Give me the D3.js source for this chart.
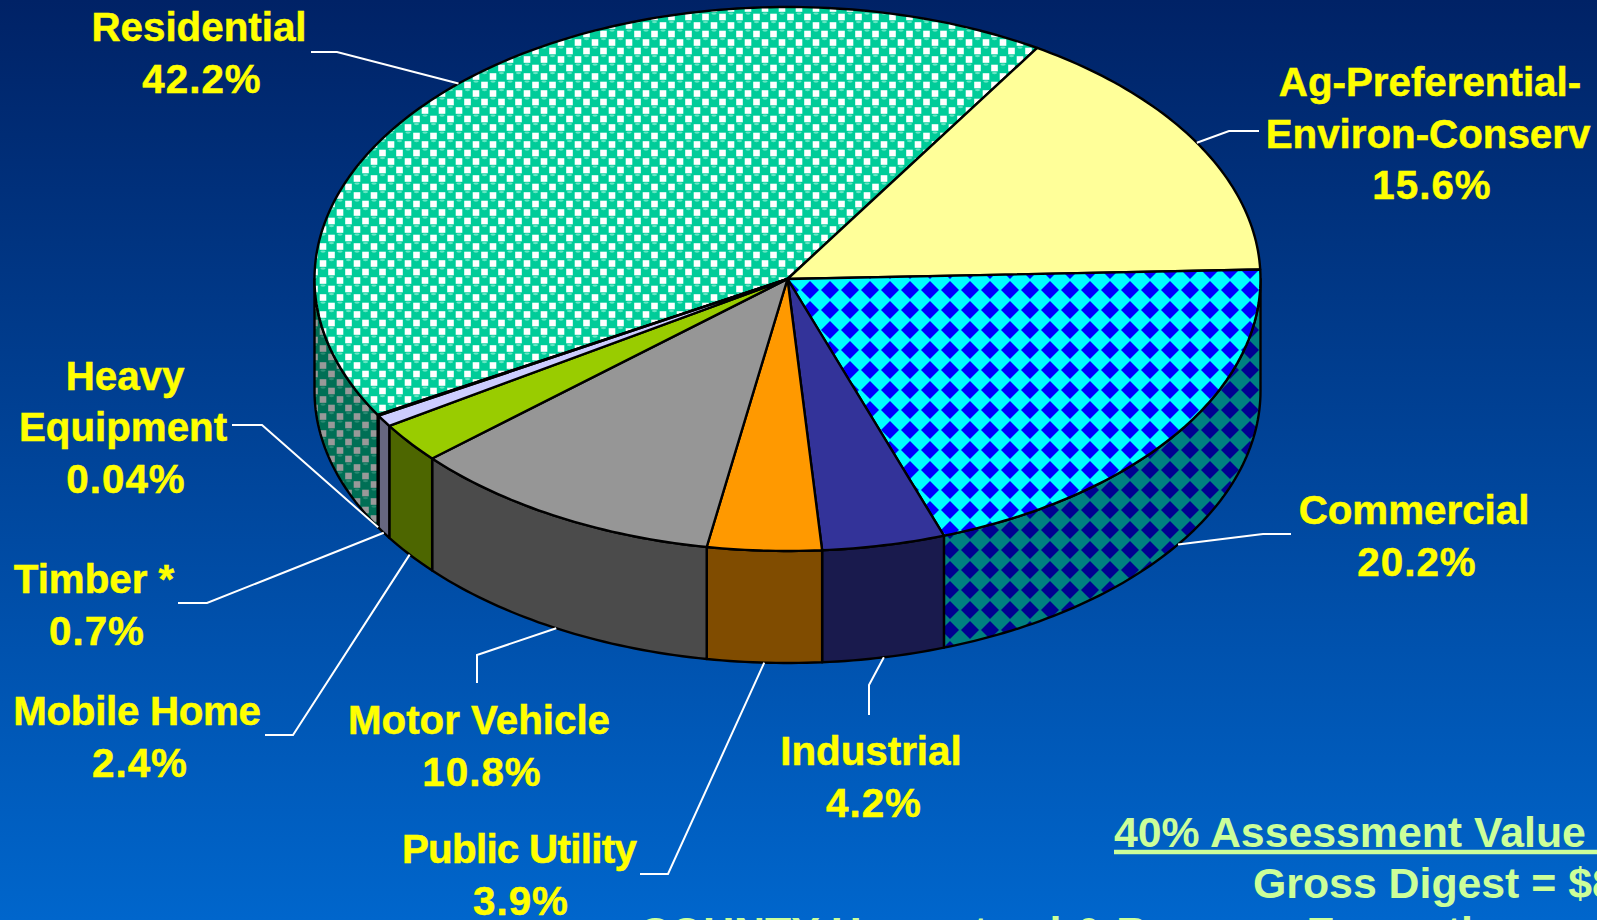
<!DOCTYPE html>
<html>
<head>
<meta charset="utf-8">
<script src="https://cdn.jsdelivr.net/npm/d3@7/dist/d3.min.js"></script>
<style>
  html, body { margin: 0; padding: 0; overflow: hidden; }
  text { font-family: "Liberation Sans", Arial, sans-serif; font-weight: bold; }
</style>
</head>
<body>
<div class="plot"></div>
<script>
const categories = ["Residential", "Ag-Preferential-Environ-Conserv", "Commercial", "Industrial", "Public Utility", "Motor Vehicle", "Mobile Home", "Timber *", "Heavy Equipment"];
const shares = [42.2, 15.6, 20.2, 4.2, 3.9, 10.8, 2.4, 0.7, 0.04];
const shareLabels = ["42.2%", "15.6%", "20.2%", "4.2%", "3.9%", "10.8%", "2.4%", "0.7%", "0.04%"];

const topFills = ["url(#residentialTop)", "#ffff99", "url(#commercialTop)", "#333399", "#ff9900", "#969696", "#99cc00", "#ccccff", "#ccccff"];
const sideFills = ["url(#residentialSide)", "#80804d", "url(#commercialSide)", "#191a4d", "#804c00", "#4b4b4b", "#4d6600", "#666680", "#666680"];

// label lines: [text, centre x, baseline y]
const labelLines = [
    [["Residential", 199, 41], ["42.2%", 202, 93]],
    [["Ag-Preferential-", 1430, 96], ["Environ-Conserv", 1428, 148], ["15.6%", 1432, 199]],
    [["Commercial", 1414, 524], ["20.2%", 1417, 576]],
    [["Industrial", 871, 765], ["4.2%", 874, 817]],
    [["Public Utility", 519, 863], ["3.9%", 521, 915]],
    [["Motor Vehicle", 479, 734], ["10.8%", 482, 786]],
    [["Mobile Home", 137, 725], ["2.4%", 140, 777]],
    [["Timber *", 94, 593], ["0.7%", 97, 645]],
    [["Heavy", 125, 390], ["Equipment", 123, 441], ["0.04%", 126, 493]]
];
// leader line start and elbow, the far end comes from the slice
const leaderStarts = [[311, 52], [1259, 131], [1291, 534], [869, 715], [640, 874], [477, 683], [265, 735], [178, 603], [232, 425]];
const leaderElbows = [[337, 52], [1229, 131], [1263, 534], [869, 685], [668, 874], [477, 655], [293, 735], [207, 603], [262, 425]];

const width = 1597, height = 920;
const cx = 787.5, cy = 279, rx = 473, ry = 272, depth = 112;

const svg = d3.select(".plot")
    .append("svg")
        .attr("width", width)
        .attr("height", height)
        .style("display", "block");

const defs = svg.append("defs");

// Background
const bg = defs.append("linearGradient")
    .attr("id", "bg")
    .attr("x1", 0).attr("y1", 0).attr("x2", 0).attr("y2", 1);
bg.append("stop").attr("offset", "0%").attr("stop-color", "#002266");
bg.append("stop").attr("offset", "100%").attr("stop-color", "#0066cc");

svg.append("rect")
    .attr("width", width)
    .attr("height", height)
    .attr("fill", "url(#bg)");

// Bubble pattern for Residential
function bubblePattern(id, back, ball, shine) {
    const s = 17;
    const p = defs.append("pattern")
        .attr("id", id)
        .attr("patternUnits", "userSpaceOnUse")
        .attr("width", s)
        .attr("height", s);
    p.append("rect").attr("width", s).attr("height", s).attr("fill", ball);
    [[s / 2, 0], [0, s / 2], [s, s / 2], [s / 2, s]].forEach(c => {
        p.append("rect")
            .attr("x", c[0] - 3.3).attr("y", c[1] - 3.3)
            .attr("width", 6.6).attr("height", 6.6)
            .attr("fill", back);
    });
    [[0, 0], [s, 0], [0, s], [s, s], [s / 2, s / 2]].forEach(c => {
        p.append("ellipse").attr("cx", c[0]).attr("cy", c[1] - 3.4).attr("rx", 2.6).attr("ry", 1.1).attr("fill", shine);
    });
}
bubblePattern("residentialTop", "#ffffff", "#00cc99", "#66e6c4");
bubblePattern("residentialSide", "#999999", "#006f55", "#2a8a72");

// Diamond pattern for Commercial
function diamondPattern(id, back, diamond) {
    const s = 20, d = 9;
    const p = defs.append("pattern")
        .attr("id", id)
        .attr("patternUnits", "userSpaceOnUse")
        .attr("width", s)
        .attr("height", s);
    p.append("rect").attr("width", s).attr("height", s).attr("fill", back);
    p.append("path")
        .attr("d", `M${s / 2 - d},${s / 2}L${s / 2},${s / 2 - d}L${s / 2 + d},${s / 2}L${s / 2},${s / 2 + d}Z`)
        .attr("fill", diamond);
}
diamondPattern("commercialTop", "#00ffff", "#0000ff");
diamondPattern("commercialSide", "#008080", "#000090");

// Unit circle to screen
const x = d3.scaleLinear().domain([-1, 1]).range([cx - rx, cx + rx]);
const y = d3.scaleLinear().domain([-1, 1]).range([cy - ry, cy + ry]);
const px = a => x(Math.sin(a));
const py = a => y(-Math.cos(a));

const deg = Math.PI / 180;
const pie = d3.pie()
    .sort(null)
    .startAngle(-120 * deg)
    .endAngle(240 * deg);
const slices = pie(shares);

const line = d3.line();
function rim(a0, a1, dy) {
    const n = Math.max(2, Math.ceil((a1 - a0) / deg));
    return d3.range(n + 1).map(i => {
        const a = a0 + (a1 - a0) * i / n;
        return [px(a), py(a) + dy];
    });
}

// Side walls, only the part facing the viewer
const frontRanges = [[90 * deg, 270 * deg], [-270 * deg, -90 * deg]];
const walls = [];
slices.forEach((s, i) => {
    frontRanges.forEach(r => {
        const a0 = Math.max(s.startAngle, r[0]);
        const a1 = Math.min(s.endAngle, r[1]);
        if (a1 > a0) walls.push({a0, a1, i});
    });
});

svg.append("g")
    .selectAll("path")
    .data(walls)
    .enter()
    .append("path")
        .attr("d", d => line(rim(d.a0, d.a1, 0).concat(rim(d.a0, d.a1, depth).reverse())) + "Z")
        .attr("fill", d => sideFills[d.i])
        .attr("stroke", "#000")
        .attr("stroke-width", 2.4)
        .attr("stroke-linejoin", "round");

// Top of the pie
svg.append("g")
    .selectAll("path")
    .data(slices)
    .enter()
    .append("path")
        .attr("d", d => line([[cx, cy]].concat(rim(d.startAngle, d.endAngle, 0))) + "Z")
        .attr("fill", (d, i) => topFills[i])
        .attr("stroke", "#000")
        .attr("stroke-width", 2.4)
        .attr("stroke-linejoin", "round");

// Leader lines
svg.append("g")
    .selectAll("path")
    .data(slices)
    .enter()
    .append("path")
        .attr("d", (d, i) => {
            const mid = (d.startAngle + d.endAngle) / 2;
            const front = Math.cos(mid) < 0;
            return line([leaderStarts[i], leaderElbows[i], [px(mid), py(mid) + (front ? depth : 0)]]);
        })
        .attr("fill", "none")
        .attr("stroke", "#fff")
        .attr("stroke-width", 2);

// Labels, percent lines run a bit wider and Public Utility a bit tighter in the reference
svg.append("g")
    .selectAll("text")
    .data(labelLines.flat())
    .enter()
    .append("text")
        .attr("x", d => d[1])
        .attr("y", d => d[2])
        .attr("text-anchor", "middle")
        .attr("font-size", 40.3)
        .attr("letter-spacing", d => /%$/.test(d[0]) ? 1 : d[0] === "Public Utility" ? -0.7 : d[0] === "Mobile Home" ? -0.3 : 0)
        .attr("fill", "#ffff00")
        .attr("stroke", "#ffff00")
        .attr("stroke-width", 0.5)
        .text(d => d[0]);

// Digest note, runs off the slide in the reference
const noteLines = [["40% Assessment Value", 1114, 847], ["Gross Digest = $8", 1253, 898], ["COUNTY Homestead & Revenue Exemptions", 639, 947]];
svg.append("g")
    .selectAll("text")
    .data(noteLines)
    .enter()
    .append("text")
        .attr("x", d => d[1])
        .attr("y", d => d[2])
        .attr("font-size", 42.8)
        .attr("fill", "#ccff99")
        .text(d => d[0]);

svg.append("line")
    .attr("x1", 1114)
    .attr("x2", width)
    .attr("y1", 852)
    .attr("y2", 852)
    .attr("stroke", "#ccff99")
    .attr("stroke-width", 4.5);
</script>
</body>
</html>
